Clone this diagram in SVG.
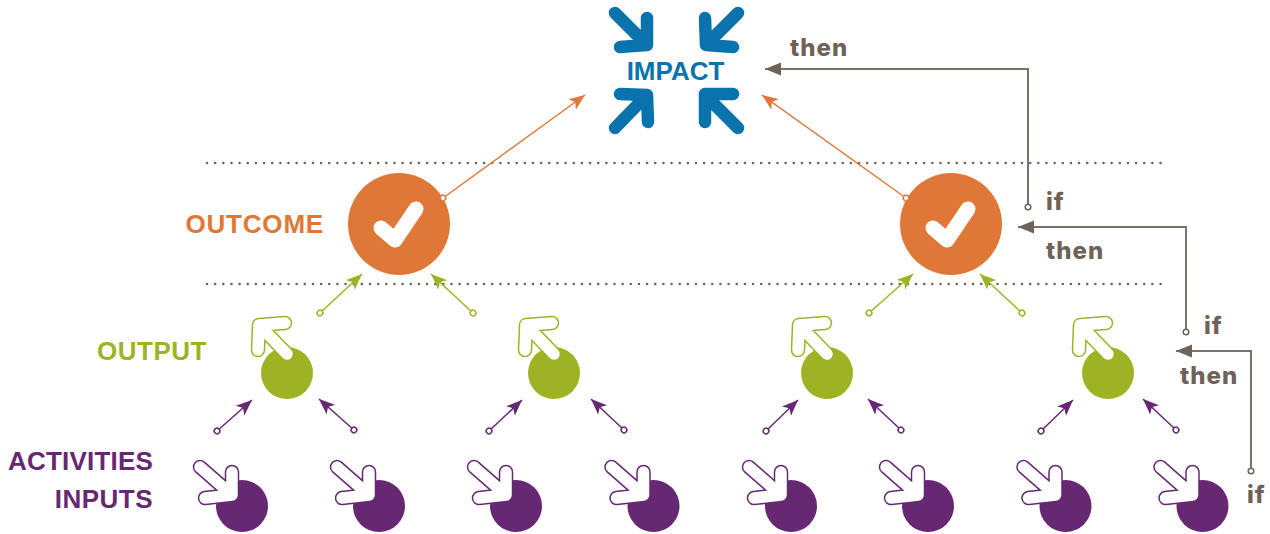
<svg xmlns="http://www.w3.org/2000/svg" xmlns:xlink="http://www.w3.org/1999/xlink" width="1270" height="534" viewBox="0 0 1270 534">
<style>
text{font-family:"Liberation Sans",Arial,sans-serif;font-weight:700}
.b{font-family:Inter,"Liberation Sans",sans-serif;fill:#6f6259;font-size:24px;font-weight:800;letter-spacing:1px}
.l{font-size:26px;text-anchor:end;letter-spacing:.5px}
.dot{fill:none;stroke:#6f6259;stroke-width:2.6;stroke-linecap:round;stroke-dasharray:0 8.15}
.c{fill:none;stroke-width:1.5}
.br{stroke:#7d726a;stroke-width:2}
.or{stroke:#df7836}.gr{stroke:#9db323}.pu{stroke:#662873}
.imp{fill:none;stroke:#0a73ae;stroke-width:12.5;stroke-linecap:round;stroke-linejoin:round}
.ln{fill:none;stroke-linecap:round;stroke-linejoin:round}
</style>
<defs>
<marker id="hbr" markerUnits="userSpaceOnUse" markerWidth="18" markerHeight="14" refX="16" refY="7" orient="auto"><path d="M16 7L0 0.5V13.5Z" fill="#6f6259"/></marker>
<marker id="hor" markerUnits="userSpaceOnUse" markerWidth="18" markerHeight="14" refX="16" refY="7" orient="auto"><path d="M16 7L0 0.5 4 7 0 13.5Z" fill="#df7836"/></marker>
<marker id="hgr" markerUnits="userSpaceOnUse" markerWidth="18" markerHeight="14" refX="16" refY="7" orient="auto"><path d="M16 7L0 0.5 4 7 0 13.5Z" fill="#9db323"/></marker>
<marker id="hpu" markerUnits="userSpaceOnUse" markerWidth="18" markerHeight="14" refX="16" refY="7" orient="auto"><path d="M16 7L0 0.5 4 7 0 13.5Z" fill="#662873"/></marker>
<marker id="obr" markerUnits="userSpaceOnUse" markerWidth="9" markerHeight="9" refX="4.5" refY="4.5" orient="auto"><circle cx="4.5" cy="4.5" r="2.8" fill="#fff" stroke="#6f6259" stroke-width="1.5"/></marker>
<marker id="oor" markerUnits="userSpaceOnUse" markerWidth="9" markerHeight="9" refX="4.5" refY="4.5" orient="auto"><circle cx="4.5" cy="4.5" r="2.8" fill="#fff" stroke="#df7836" stroke-width="1.5"/></marker>
<marker id="ogr" markerUnits="userSpaceOnUse" markerWidth="9" markerHeight="9" refX="4.5" refY="4.5" orient="auto"><circle cx="4.5" cy="4.5" r="2.8" fill="#fff" stroke="#9db323" stroke-width="1.5"/></marker>
<marker id="opu" markerUnits="userSpaceOnUse" markerWidth="9" markerHeight="9" refX="4.5" refY="4.5" orient="auto"><circle cx="4.5" cy="4.5" r="2.8" fill="#fff" stroke="#662873" stroke-width="1.5"/></marker>
<path id="ga" d="M285 323L259 325L258 350M259 325L287 354"/>
<path id="pa" d="M200 467L232 495M232 472L232 495L205 498"/>
<g id="outp"><circle cx="287" cy="373" r="26" fill="#9db323"/><use xlink:href="#ga" class="ln" stroke="#9db323" style="stroke-width:14.5"/><use xlink:href="#ga" class="ln" stroke="#fff" style="stroke-width:11.5"/></g>
<g id="inp"><circle cx="242" cy="506" r="26" fill="#662873"/><use xlink:href="#pa" class="ln" stroke="#662873" style="stroke-width:14.5"/><use xlink:href="#pa" class="ln" stroke="#fff" style="stroke-width:11.5"/></g>
<g id="outc"><circle cx="399" cy="224" r="51" fill="#df7836"/><path d="M381 228L395 240L416 209" fill="none" stroke="#fff" stroke-width="15" stroke-linecap="round" stroke-linejoin="round"/></g>
</defs>
<g id="levels">
<path class="dot" d="M207 163H1163M207 284H1163"/>
</g>
<g id="node-impact">
<path class="imp" d="M615 13L647 45M647 18L647 45L620 47M738 13L706 45M705 18L706 45L733 47M615 128L647 95M648 122L647 95L620 94M738 128L705 95M705 122L705 94L733 94"/>
<text x="675.5" y="80" font-size="26" text-anchor="middle" fill="#0a73ae">IMPACT</text>
</g>
<g id="node-outcome-1"><use xlink:href="#outc"/></g>
<g id="node-outcome-2"><use xlink:href="#outc" x="552"/></g>
<g id="node-output-1"><use xlink:href="#outp"/></g>
<g id="node-output-2"><use xlink:href="#outp" x="267"/></g>
<g id="node-output-3"><use xlink:href="#outp" x="540"/></g>
<g id="node-output-4"><use xlink:href="#outp" x="821"/></g>
<g id="node-input-1"><use xlink:href="#inp"/></g>
<g id="node-input-2"><use xlink:href="#inp" x="137"/></g>
<g id="node-input-3"><use xlink:href="#inp" x="274"/></g>
<g id="node-input-4"><use xlink:href="#inp" x="411.5"/></g>
<g id="node-input-5"><use xlink:href="#inp" x="549"/></g>
<g id="node-input-6"><use xlink:href="#inp" x="686"/></g>
<g id="node-input-7"><use xlink:href="#inp" x="823.5"/></g>
<g id="node-input-8"><use xlink:href="#inp" x="960.5"/></g>
<g id="connectors">
<path class="c br" d="M1028 207V69H765" marker-start="url(#obr)" marker-end="url(#hbr)"/>
<path class="c br" d="M1186 332V227H1018" marker-start="url(#obr)" marker-end="url(#hbr)"/>
<path class="c br" d="M1251 471V351H1176" marker-start="url(#obr)" marker-end="url(#hbr)"/>
<path class="c or" d="M443 198L585 95" marker-start="url(#oor)" marker-end="url(#hor)"/>
<path class="c or" d="M906 198L762 95" marker-start="url(#oor)" marker-end="url(#hor)"/>
<path class="c gr" d="M320 313L362 274" marker-start="url(#ogr)" marker-end="url(#hgr)"/>
<path class="c gr" d="M473 313L431 274" marker-start="url(#ogr)" marker-end="url(#hgr)"/>
<path class="c gr" d="M869 313L913 274" marker-start="url(#ogr)" marker-end="url(#hgr)"/>
<path class="c gr" d="M1022 313L980 274" marker-start="url(#ogr)" marker-end="url(#hgr)"/>
<path class="c pu" d="M217 431L252 400" marker-start="url(#opu)" marker-end="url(#hpu)"/>
<path class="c pu" d="M354 430L319 399" marker-start="url(#opu)" marker-end="url(#hpu)"/>
<path class="c pu" d="M489 431L522 400" marker-start="url(#opu)" marker-end="url(#hpu)"/>
<path class="c pu" d="M624 430L591 399" marker-start="url(#opu)" marker-end="url(#hpu)"/>
<path class="c pu" d="M766 431L798 400" marker-start="url(#opu)" marker-end="url(#hpu)"/>
<path class="c pu" d="M901 430L868 399" marker-start="url(#opu)" marker-end="url(#hpu)"/>
<path class="c pu" d="M1041 431L1073 400" marker-start="url(#opu)" marker-end="url(#hpu)"/>
<path class="c pu" d="M1176 430L1143 399" marker-start="url(#opu)" marker-end="url(#hpu)"/>
</g>
<g id="labels">
<text class="l" x="324" y="233" fill="#df7836" style="letter-spacing:.8px">OUTCOME</text>
<text class="l" x="207" y="360" fill="#9db323">OUTPUT</text>
<text class="l" x="153" y="470" fill="#662873" style="letter-spacing:.2px">ACTIVITIES</text>
<text class="l" x="153" y="508" fill="#662873">INPUTS</text>
<text class="b" x="790" y="56">then</text>
<text class="b" x="1046" y="210">if</text>
<text class="b" x="1046" y="259">then</text>
<text class="b" x="1204" y="334">if</text>
<text class="b" x="1180" y="384">then</text>
<text class="b" x="1247" y="503">if</text>
</g>
</svg>
